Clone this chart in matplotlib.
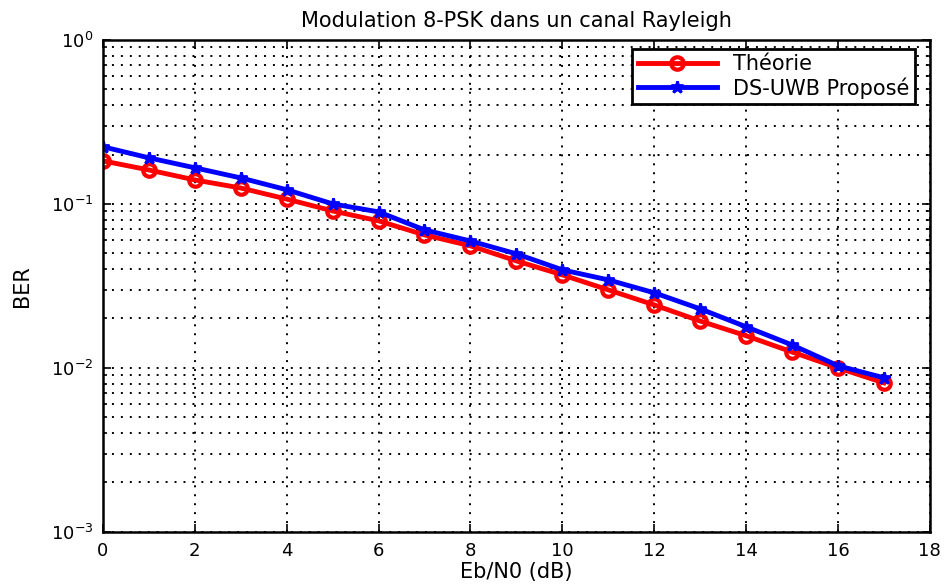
import matplotlib.pyplot as plt
import numpy as np

plt.rcParams['font.family'] = ['DejaVu Sans']

ebn0 = np.arange(0, 18)
ber_theorie = [0.183, 0.161, 0.140, 0.125, 0.107, 0.0906, 0.0788, 0.0647, 0.0555,
               0.0449, 0.0369, 0.0299, 0.0242, 0.0193, 0.0157, 0.0125, 0.0100, 0.0081]
ber_dsuwb = [0.223, 0.191, 0.166, 0.144, 0.122, 0.100, 0.0894, 0.0694, 0.0594,
             0.0496, 0.0396, 0.0344, 0.0287, 0.0229, 0.0178, 0.0138, 0.0103, 0.0087]

fig = plt.figure(figsize=(9.44, 5.87), dpi=100)
ax = fig.add_axes([0.109, 0.094, 0.876, 0.838])

ax.semilogy(ebn0, ber_theorie, color='red', linewidth=3.5, marker='o', markersize=9,
            markerfacecolor='none', markeredgewidth=3, label='Théorie')
ax.semilogy(ebn0, ber_dsuwb, color='blue', linewidth=3.5, marker='*', markersize=9,
            markeredgewidth=2, label='DS-UWB Proposé')

ax.set_xlim(0, 18)
ax.set_ylim(1e-3, 1)
ax.set_xticks(np.arange(0, 19, 2))

# matlab-like sparse dotted grid
dots = (0, (1, 3.6))
ax.grid(True, which='major', linestyle=dots, color='black', linewidth=1.4)
ax.grid(True, which='minor', axis='y', linestyle=dots, color='black', linewidth=1.4)
ax.tick_params(which='both', direction='in', labelsize=13, width=1.2,
               top=True, right=True)
ax.tick_params(which='major', length=6, pad=7)
ax.tick_params(which='minor', length=3)
for s in ax.spines.values():
    s.set_linewidth(1.8)

ax.set_title('Modulation 8-PSK dans un canal Rayleigh', fontsize=15, pad=9)
ax.set_xlabel('Eb/N0 (dB)', fontsize=15)
ax.set_ylabel('BER', fontsize=15)
ax.xaxis.set_label_coords(0.5, -0.062)
ax.yaxis.set_label_coords(-0.086, 0.5)

leg = ax.legend(loc='upper right', bbox_to_anchor=(0.982, 0.982), fontsize=15,
                fancybox=False, framealpha=1, edgecolor='black', borderaxespad=0,
                handlelength=3.8, borderpad=0.25, labelspacing=0.15)
leg.get_frame().set_linewidth(2)

fig.savefig('out.png')
